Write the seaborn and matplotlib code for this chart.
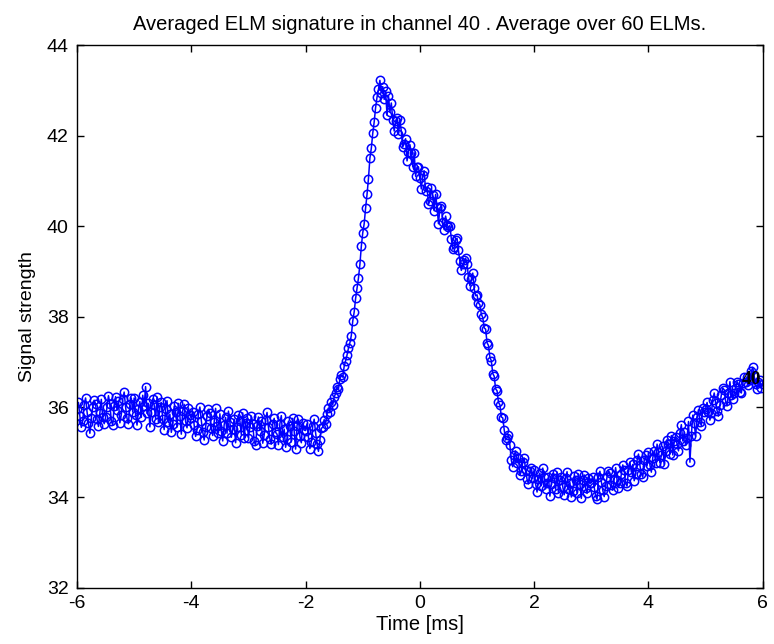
import numpy as np
import matplotlib
matplotlib.use('Agg')
import matplotlib.pyplot as plt
import seaborn as sns

# averaged ELM signature, channel 40
t_start, t_end = -6.0, 6.0
signal = [
    # -6.0 .. -5.525
    35.95, 36.10, 35.80, 35.55, 35.70, 36.05, 36.20, 35.90, 35.65, 35.42,
    35.75, 36.00, 36.15, 36.07, 35.73, 35.57, 35.87, 36.17, 35.77, 35.63,
    # -5.5 .. -5.025
    35.77, 36.00, 36.25, 36.07, 35.70, 35.60, 36.03, 36.23, 35.93, 36.13,
    35.65, 35.83, 36.17, 36.33, 36.00, 35.75, 35.63, 36.07, 36.20, 35.89,
    # -5.0 .. -4.525
    36.20, 35.82, 35.60, 35.96, 36.12, 35.77, 36.26, 36.02, 36.45, 35.86,
    36.08, 35.56, 35.90, 36.18, 36.04, 35.74, 36.22, 35.66, 36.00, 36.10,
    # -4.5 .. -4.025
    35.73, 35.50, 35.96, 36.14, 35.66, 35.84, 35.44, 35.62, 36.02, 35.90,
    35.56, 36.08, 35.80, 35.40, 35.92, 36.06, 35.68, 35.54, 35.98, 35.82,
    # -4.0 .. -3.525
    35.75, 35.90, 35.60, 35.35, 35.50, 35.85, 36.00, 35.70, 35.45, 35.27,
    35.55, 35.80, 35.95, 35.87, 35.53, 35.37, 35.67, 35.97, 35.57, 35.43,
    # -3.5 .. -3.025
    35.85, 35.47, 35.25, 35.61, 35.77, 35.42, 35.91, 35.67, 35.33, 35.51,
    35.73, 35.21, 35.55, 35.83, 35.69, 35.39, 35.87, 35.31, 35.65, 35.75,
    # -3.0 .. -2.525
    35.32, 35.55, 35.80, 35.62, 35.25, 35.15, 35.58, 35.78, 35.48, 35.68,
    35.20, 35.38, 35.72, 35.88, 35.55, 35.30, 35.18, 35.62, 35.75, 35.44,
    # -2.5 .. -2.025
    35.40, 35.17, 35.63, 35.81, 35.33, 35.51, 35.11, 35.29, 35.69, 35.57,
    35.23, 35.75, 35.47, 35.07, 35.59, 35.73, 35.35, 35.21, 35.65, 35.49,
    # -2.0 .. -1.525
    35.48, 35.63, 35.33, 35.08, 35.23, 35.58, 35.73, 35.43, 35.18, 35.02,
    35.28, 35.53, 35.55, 35.72, 35.62, 35.85, 35.98, 35.90, 36.12, 36.05,
    # -1.5 .. -1.025
    36.22, 36.30, 36.45, 36.40, 36.62, 36.70, 36.66, 36.90, 37.02, 37.15,
    37.30, 37.42, 37.58, 37.90, 38.10, 38.40, 38.62, 38.85, 39.15, 39.55,
    # -1.0 .. -0.525
    39.85, 40.05, 40.40, 40.70, 41.05, 41.50, 41.72, 42.05, 42.30, 42.62,
    42.85, 43.02, 43.22, 42.95, 43.08, 42.80, 42.98, 42.45, 42.88, 42.52,
    # -0.5 .. -0.025
    42.72, 42.35, 42.10, 42.32, 42.38, 42.03, 42.35, 42.09, 41.75, 41.82,
    41.93, 41.44, 41.64, 41.80, 41.62, 41.31, 41.62, 41.10, 41.30, 41.31,
    # 0.0 .. 0.475
    41.06, 40.82, 41.12, 41.22, 40.77, 40.86, 40.48, 40.56, 40.83, 40.68,
    40.34, 40.70, 40.42, 40.05, 40.40, 40.45, 40.09, 39.92, 40.22, 40.03,
    # 0.5 .. 0.975
    39.97, 40.01, 39.72, 39.49, 39.53, 39.70, 39.73, 39.46, 39.22, 39.02,
    39.15, 39.25, 39.29, 39.17, 38.87, 38.68, 38.82, 38.96, 38.62, 38.46,
    # 1.0 .. 1.475
    38.48, 38.30, 38.26, 38.05, 37.98, 37.75, 37.72, 37.42, 37.36, 37.10,
    37.02, 36.74, 36.68, 36.40, 36.36, 36.10, 36.05, 35.78, 35.76, 35.50,
    # 1.5 .. 1.975
    35.27, 35.32, 35.38, 35.15, 34.82, 34.68, 34.94, 35.03, 34.77, 34.87,
    34.49, 34.58, 34.78, 34.87, 34.61, 34.40, 34.30, 34.58, 34.66, 34.42,
    # 2.0 .. 2.475
    34.60, 34.30, 34.12, 34.41, 34.54, 34.26, 34.65, 34.46, 34.19, 34.33,
    34.45, 34.03, 34.30, 34.53, 34.42, 34.18, 34.56, 34.11, 34.38, 34.46,
    # 2.5 .. 2.975
    34.24, 34.06, 34.42, 34.57, 34.18, 34.33, 34.01, 34.15, 34.47, 34.38,
    34.10, 34.52, 34.30, 33.98, 34.39, 34.50, 34.20, 34.09, 34.44, 34.31,
    # 3.0 .. 3.475
    34.33, 34.46, 34.23, 34.03, 33.96, 34.45, 34.58, 34.35, 34.16, 34.02,
    34.25, 34.46, 34.59, 34.54, 34.27, 34.16, 34.41, 34.66, 34.39, 34.22,
    # 3.5 .. 3.975
    34.31, 34.51, 34.72, 34.60, 34.31, 34.25, 34.61, 34.78, 34.56, 34.73,
    34.37, 34.53, 34.82, 34.96, 34.71, 34.53, 34.45, 34.82, 34.94, 34.70,
    # 4.0 .. 4.475
    35.00, 34.72, 34.56, 34.88, 35.03, 34.77, 35.18, 35.01, 34.77, 34.93,
    35.13, 34.73, 35.02, 35.28, 35.19, 34.97, 35.37, 34.94, 35.24, 35.34,
    # 4.5 .. 4.975
    35.18, 35.03, 35.43, 35.61, 35.25, 35.44, 35.15, 35.32, 35.68, 34.78,
    35.37, 35.82, 35.64, 35.35, 35.79, 35.94, 35.67, 35.59, 35.98, 35.88,
    # 5.0 .. 5.475
    35.96, 36.10, 35.89, 35.71, 35.86, 36.16, 36.31, 36.09, 35.92, 35.80,
    36.05, 36.27, 36.42, 36.38, 36.13, 36.03, 36.30, 36.56, 36.27, 36.17,
    # 5.5 .. 5.975
    36.30, 36.42, 36.56, 36.50, 36.34, 36.31, 36.54, 36.66, 36.55, 36.67,
    36.48, 36.59, 36.79, 36.88, 36.68, 36.50, 36.39, 36.56, 36.59, 36.42,
    # 6.0
    36.50,
]
time_ms = np.linspace(t_start, t_end, len(signal))

channel = 40
n_elms = 60

sns.set_style("ticks", {"xtick.direction": "in", "ytick.direction": "in"})
plt.rcParams['font.family'] = ['Liberation Sans', 'DejaVu Sans']
plt.rcParams['axes.unicode_minus'] = False
plt.rcParams['text.color'] = 'black'
plt.rcParams['axes.labelcolor'] = 'black'

fig = plt.figure(figsize=(7.74, 6.44), dpi=100)
ax = fig.add_axes([0.0995, 0.087, 0.886, 0.843])

sns.lineplot(x=time_ms, y=signal, ax=ax, color='#0000ff', linewidth=1.1,
             marker='o', markersize=6, markerfacecolor='none',
             markeredgecolor='#0000ff', markeredgewidth=1.1,
             estimator=None, sort=False)

# channel number written at the end of the trace
ax.text(5.63, 36.6, str(channel), fontsize=14, fontweight='bold',
        family=['Liberation Serif', 'DejaVu Serif'], ha='left', va='center',
        color='black', zorder=5)

ax.set_xlim(-6, 6)
ax.set_ylim(32, 44)
ax.set_xticks([-6, -4, -2, 0, 2, 4, 6])
ax.set_yticks([32, 34, 36, 38, 40, 42, 44])
ax.tick_params(top=True, right=True, length=5, width=1, labelsize=14, colors='black')
ax.tick_params(axis='y', pad=6)
ax.tick_params(axis='x', pad=5)
for s in ax.spines.values():
    s.set_color('black')
    s.set_linewidth(1)

ax.set_title('Averaged ELM signature in channel %d . Average over %d ELMs.' % (channel, n_elms),
             fontsize=14.5, pad=11, color='black')
ax.set_xlabel('Time [ms]', fontsize=14.5, labelpad=2)
ax.set_ylabel('Signal strength', fontsize=14, labelpad=8)

fig.savefig('out.png', dpi=100)
